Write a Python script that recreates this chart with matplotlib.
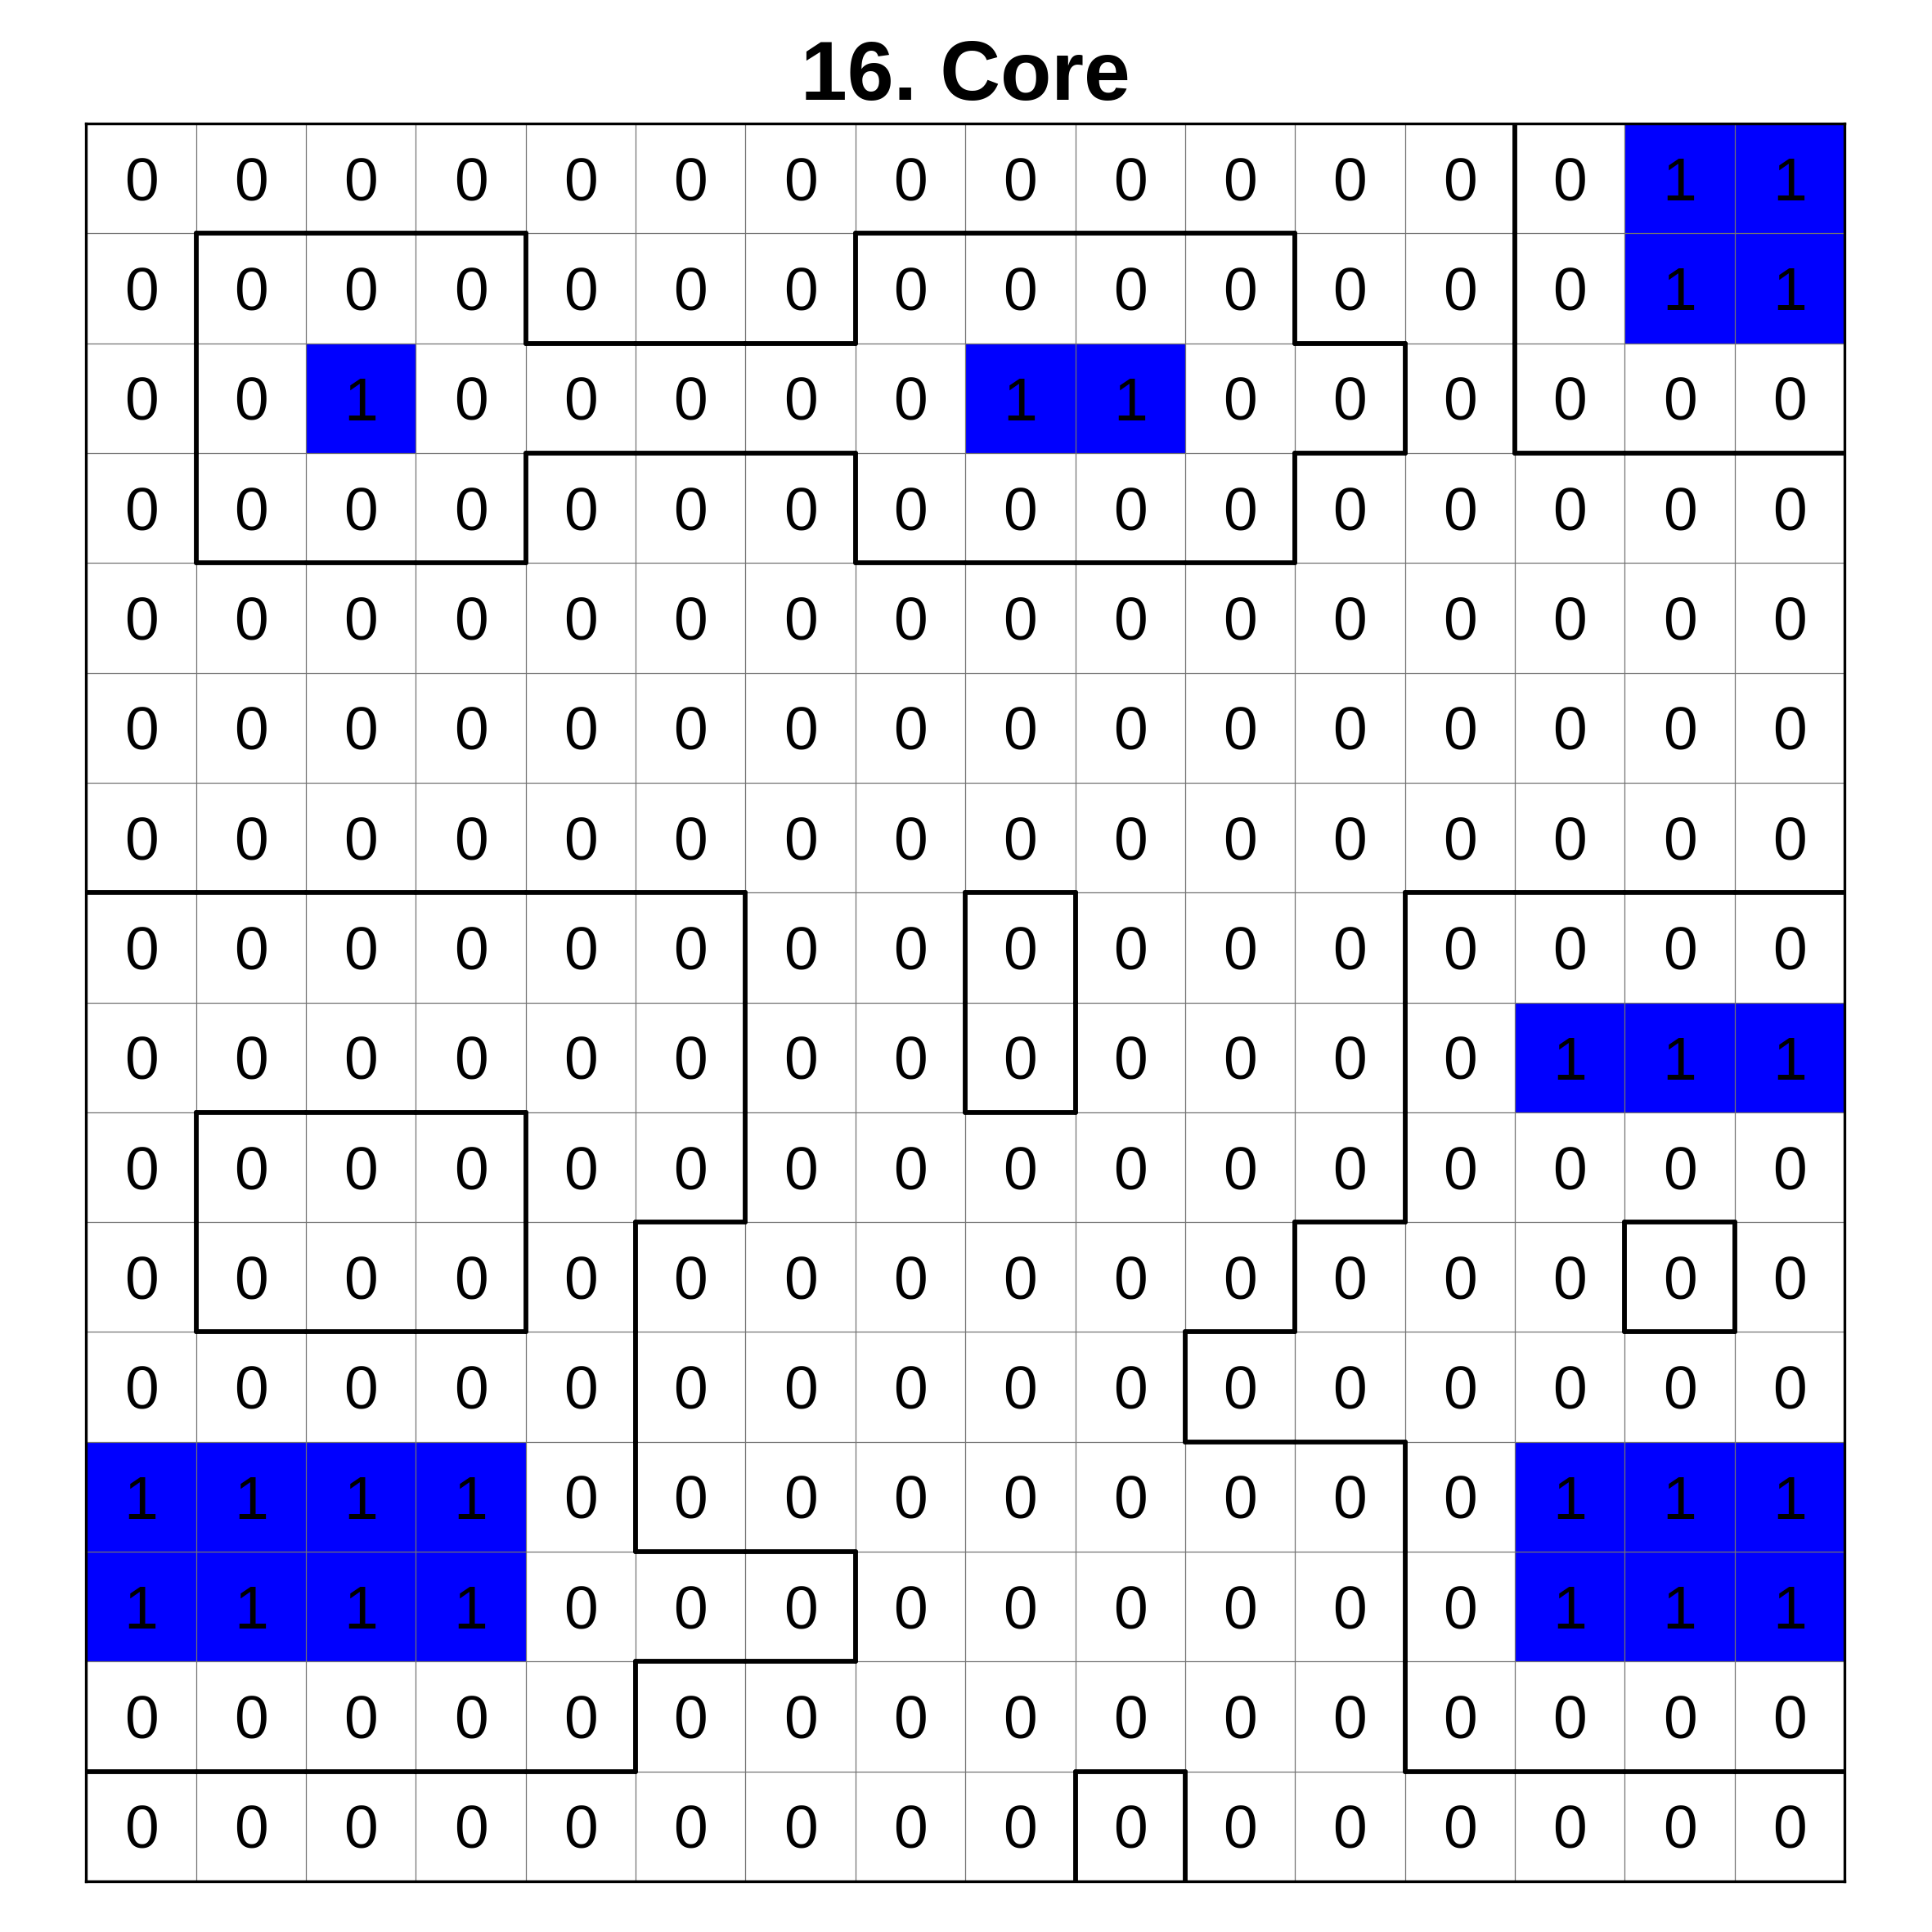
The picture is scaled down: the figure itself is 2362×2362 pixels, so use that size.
import numpy as np
import matplotlib
matplotlib.use('Agg')
import matplotlib.pyplot as plt
from matplotlib.colors import ListedColormap
from matplotlib.collections import LineCollection

plt.rcParams['font.family'] = ['Liberation Sans', 'DejaVu Sans']

title = '16. Core'

# cell values, one string per row (top to bottom)
value_rows = [
    '0000000000000011',
    '0000000000000011',
    '0010000011000000',
    '0000000000000000',
    '0000000000000000',
    '0000000000000000',
    '0000000000000000',
    '0000000000000000',
    '0000000000000111',
    '0000000000000000',
    '0000000000000000',
    '0000000000000000',
    '1111000000000111',
    '1111000000000111',
    '0000000000000000',
    '0000000000000000',
]

# region labels, thick lines are drawn where neighbouring labels differ
region_rows = [
    '.............aaa',
    '.bbb...bbbb..aaa',
    '.bbbbbbbbbbb.aaa',
    '.bbb...bbbb.....',
    '................',
    '................',
    '................',
    'cccccc..d...eeee',
    'cccccc..d...eeee',
    'cfffcc......eeee',
    'cfffc......eeege',
    'ccccc.....eeeeee',
    'ccccc.......eeee',
    'ccccccc.....eeee',
    'ccccc.......eeee',
    '.........h......',
]

values = np.array([[int(c) for c in r] for r in value_rows])
regions = np.array([list(r) for r in region_rows])
nrows, ncols = values.shape

fig = plt.figure(figsize=(2362 / 300, 2362 / 300), dpi=300)
ax = fig.add_axes([0.0446, 0.0262, 0.9101, 0.9099])

ax.pcolormesh(np.arange(ncols + 1), np.arange(nrows + 1), values,
              cmap=ListedColormap(['white', '#0000ff']), vmin=0, vmax=1)

# thin grid
ax.hlines(np.arange(1, nrows), 0, ncols, color='0.45', lw=0.3)
ax.vlines(np.arange(1, ncols), 0, nrows, color='0.45', lw=0.3)

for i in range(nrows):
    for j in range(ncols):
        ax.text(j + 0.5, i + 0.5, str(values[i, j]), ha='center',
                va='center_baseline', fontsize=18, color='black')

# region borders
segs = []
for i in range(nrows):
    for j in range(ncols):
        if j + 1 < ncols and regions[i, j] != regions[i, j + 1]:
            segs.append([(j + 1, i), (j + 1, i + 1)])
        if i + 1 < nrows and regions[i, j] != regions[i + 1, j]:
            segs.append([(j, i + 1), (j + 1, i + 1)])
ax.add_collection(LineCollection(segs, colors='black', linewidths=1.4,
                                 capstyle='round', zorder=3))

ax.set_xlim(0, ncols)
ax.set_ylim(nrows, 0)
ax.set_xticks([])
ax.set_yticks([])
for s in ax.spines.values():
    s.set_linewidth(0.8)
    s.set_zorder(4)

ax.set_title(title, fontsize=24.5, fontweight='bold', pad=7)

fig.savefig('out.png', dpi=300)
